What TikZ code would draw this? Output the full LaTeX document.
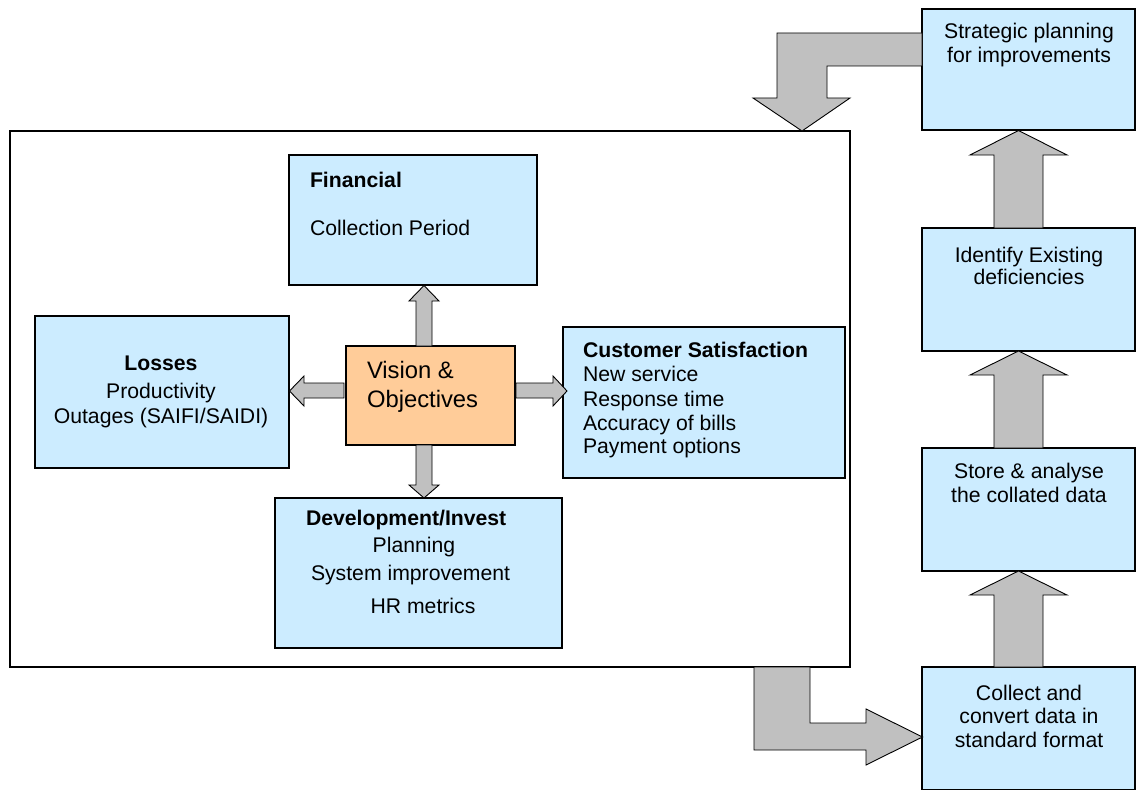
\documentclass[tikz,border=0pt]{standalone}
\usepackage{fontspec}
\setmainfont{Liberation Sans}
\begin{document}
\begin{tikzpicture}[x=1bp,y=-1bp,
  base/.style={inner sep=0pt,outer sep=0pt},
  bluebox/.style={base,draw=black,line width=1.6bp,fill=boxblue},
  orangebox/.style={base,draw=black,line width=1.6bp,fill=boxorange},
  framebox/.style={base,draw=black,line width=1.3bp,fill=white},
  blockarrow/.style={draw=black,line width=0.9bp,fill=arrowgrey,line join=miter},
  txt/.style={base,font=\fontsize{21.2bp}{24.5bp}\selectfont},
  bigtxt/.style={base,font=\fontsize{23.8bp}{28bp}\selectfont}]
\definecolor{boxblue}{HTML}{CCECFF}
\definecolor{boxorange}{HTML}{FFCC99}
\definecolor{arrowgrey}{HTML}{C0C0C0}
\useasboundingbox (0,0) rectangle (1137,790);

% outer frame of the scorecard
\node[framebox,minimum width=840bp,minimum height=536bp] (frame) at (430,399) {};

% scorecard boxes
\node[bluebox,minimum width=248bp,minimum height=130bp] (fin)  at (413,220) {};
\node[orangebox,minimum width=169bp,minimum height=99bp] (vis) at (430.5,395.5) {};
\node[bluebox,minimum width=254bp,minimum height=152bp] (loss) at (162,392) {};
\node[bluebox,minimum width=282bp,minimum height=151bp] (cust) at (704,402.5) {};
\node[bluebox,minimum width=287bp,minimum height=150bp] (dev)  at (418.5,573) {};

% process chain on the right
\node[bluebox,minimum width=213bp,minimum height=121bp] (strat)   at (1028.5,69.5) {};
\node[bluebox,minimum width=213bp,minimum height=123bp] (ident)   at (1028.5,289.5) {};
\node[bluebox,minimum width=213bp,minimum height=123bp] (store)   at (1028.5,509.5) {};
\node[bluebox,minimum width=213bp,minimum height=123bp] (collect) at (1028.5,728.5) {};

% arrows out of the vision box
\draw[blockarrow] (416,346)--(416,301)--(409,301)--(424,285.5)--(439,301)--(432,301)--(432,346)--cycle;
\draw[blockarrow] (416,445)--(416,485)--(409,485)--(424,498)--(439,485)--(432,485)--(432,445)--cycle;
\draw[blockarrow] (344,383)--(304,383)--(304,376)--(289.5,391)--(304,406)--(304,398)--(344,398)--cycle;
\draw[blockarrow] (516,383)--(553,383)--(553,376)--(567,391)--(553,406)--(553,398)--(516,398)--cycle;

% upward arrows of the process chain
\draw[blockarrow] (994,228)--(994,155)--(970,155)--(1018.5,130.5)--(1067,155)--(1043,155)--(1043,228)--cycle;
\draw[blockarrow] (994,448)--(994,375)--(970,375)--(1018.5,351)--(1067,375)--(1043,375)--(1043,448)--cycle;
\draw[blockarrow] (994,667)--(994,595)--(970,595)--(1018.5,571)--(1067,595)--(1043,595)--(1043,667)--cycle;

% bent arrows linking the frame and the chain
\draw[blockarrow] (922,33)--(777,33)--(777,98)--(753,98)--(802,131)--(850,98)--(827,98)--(827,66)--(922,66)--cycle;
\draw[blockarrow] (754,667)--(754,750)--(866,750)--(866,765)--(922.5,737)--(866,709)--(866,723)--(810,723)--(810,667)--cycle;

% texts
\node[txt,anchor=base west] (finT) at (310,187) {\textbf{Financial}};
\node[txt,anchor=base west] (finA) at (310,235) {Collection Period};

\node[txt,anchor=base] (lossT) at (161,370) {\textbf{Losses}};
\node[txt,anchor=base] (lossA) at (161,398) {Productivity};
\node[txt,anchor=base] (lossB) at (161,423) {Outages (SAIFI/SAIDI)};

\node[bigtxt,anchor=base west] (visA) at (367,378) {Vision \&};
\node[bigtxt,anchor=base west] (visB) at (367,407) {Objectives};

\node[txt,anchor=base west] (custT) at (583,357) {\textbf{Customer Satisfaction}};
\node[txt,anchor=base west] (custA) at (583,381) {New service};
\node[txt,anchor=base west] (custB) at (583,406) {Response time};
\node[txt,anchor=base west] (custC) at (583,430) {Accuracy of bills};
\node[txt,anchor=base west] (custD) at (583,453) {Payment options};

\node[txt,anchor=base west] (devT) at (306,525) {\textbf{Development/Invest}};
\node[txt,anchor=base] (devA) at (414,552) {Planning};
\node[txt,anchor=base west] (devB) at (311,580) {System improvement};
\node[txt,anchor=base] (devC) at (423,613) {HR metrics};

\node[txt,anchor=base] (stratA) at (1029,39) {Strategic planning};
\node[txt,anchor=base] (stratB) at (1029,63) {for improvements};

\node[txt,anchor=base] (identA) at (1029,262) {Identify Existing};
\node[txt,anchor=base] (identB) at (1029,284) {deficiencies};

\node[txt,anchor=base] (storeA) at (1029,478) {Store \& analyse};
\node[txt,anchor=base] (storeB) at (1029,502) {the collated data};

\node[txt,anchor=base] (collA) at (1029,700) {Collect and};
\node[txt,anchor=base] (collB) at (1029,723) {convert data in};
\node[txt,anchor=base] (collC) at (1029,747) {standard format};
\end{tikzpicture}
\end{document}
